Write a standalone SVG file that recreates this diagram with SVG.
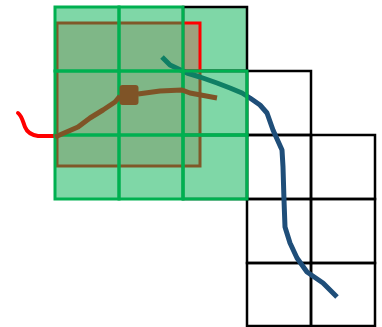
<svg xmlns="http://www.w3.org/2000/svg" width="382" height="327" viewBox="0 0 382 327">
  <style>
    .cell { fill: #00b050; fill-opacity: 0.5; stroke: #00b050; stroke-width: 3; }
    .cell-bare { fill: #00b050; fill-opacity: 0.5; stroke: none; }
    .grid { fill: none; stroke: #000000; stroke-width: 2.5; }
    .region { fill: #ff0000; fill-opacity: 0.25; stroke: #ff0000; stroke-width: 3; }
    .red { fill: none; stroke: #ff0000; stroke-width: 4; stroke-linecap: round; stroke-linejoin: round; }
    .blue { fill: none; stroke: #1f4e79; stroke-width: 5; stroke-linejoin: round; }
    .brown { fill: none; stroke: #7f5427; stroke-width: 5; stroke-linejoin: round; }
  </style>
  <rect width="382" height="327" fill="#ffffff"/>

  <!-- corner cell of the green window, lying under the outline -->
  <g id="green-corner">
    <rect class="cell-bare" x="183" y="7" width="64" height="64"/>
  </g>

  <!-- black staircase grid -->
  <g id="black-grid">
    <rect class="grid" x="183" y="7" width="64" height="64"/>
    <rect class="grid" x="183" y="71" width="64" height="64"/>
    <rect class="grid" x="247" y="71" width="64" height="64"/>
    <rect class="grid" x="183" y="135" width="64" height="64"/>
    <rect class="grid" x="247" y="135" width="64" height="64"/>
    <rect class="grid" x="311" y="135" width="64" height="64"/>
    <rect class="grid" x="247" y="199" width="64" height="64"/>
    <rect class="grid" x="311" y="199" width="64" height="64"/>
    <rect class="grid" x="247" y="263" width="64" height="63"/>
    <rect class="grid" x="311" y="263" width="64" height="63"/>
  </g>

  <!-- red region with its lead-in line -->
  <g id="red-region">
    <rect class="region" x="57" y="23" width="143" height="143"/>
    <path class="red" d="M18,113 C22,116 23,122 25,127 C27,132 31,135 38,136 L55,136"/>
  </g>

  <!-- blue track -->
  <g id="connectors">
    <path class="blue" d="M162,57 L170,65 L187,73 L200,77 L217,83 L230,88 L242,93 L250,98 L260,105 L267,113 L273,130 L282,150 L283,167 L284,200 L285,227 L290,243 L297,258 L307,272 L323,283 L337,297"/>
  </g>

  <!-- green window cells -->
  <g id="green-window">
    <rect class="cell" x="55" y="7" width="64" height="64"/>
    <rect class="cell" x="119" y="7" width="64" height="64"/>
    <rect class="cell" x="55" y="71" width="64" height="64"/>
    <rect class="cell" x="119" y="71" width="64" height="64"/>
    <rect class="cell" x="183" y="71" width="64" height="64"/>
    <rect class="cell" x="55" y="135" width="64" height="64"/>
    <rect class="cell" x="119" y="135" width="64" height="64"/>
    <rect class="cell" x="183" y="135" width="64" height="64"/>
  </g>

  <!-- brown track with its marker -->
  <g id="brown-track">
    <path class="brown" d="M55,137 L78,127 L90,118 L103,110 L115,102 L120,96"/>
    <path class="brown" d="M138,94 L160,91 L182,90 L190,93 L217,98"/>
    <rect x="119.5" y="85" width="19" height="20" rx="3" fill="#7f5427"/>
  </g>
</svg>
